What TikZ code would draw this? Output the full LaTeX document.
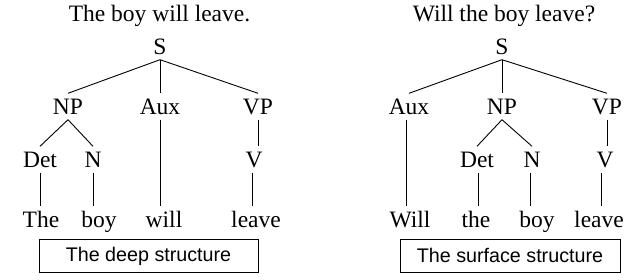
\documentclass[tikz,border=0pt]{standalone}
\usepackage{fontspec}
\setmainfont{Liberation Serif}
\newfontfamily\boxfont{Liberation Sans}
\begin{document}
\begin{tikzpicture}[x=1pt,y=-1pt,
  lbl/.style={anchor=base,inner xsep=1pt,inner ysep=4.5pt,text height=16pt,text depth=1pt,font=\fontsize{23.5}{26}\selectfont},
  ttl/.style={anchor=base,inner sep=0pt,font=\fontsize{23.5}{26}\selectfont},
  capbox/.style={draw,line width=1pt,minimum width=219pt,minimum height=33pt,inner sep=0pt,font=\boxfont\fontsize{19.7}{22}\selectfont},
  conn/.style={line width=0.9pt}]
\useasboundingbox (0,0) rectangle (637,279);
% ---- left tree
\node[ttl] (t1) at (159.5,21) {The boy will leave.};
\node[lbl] (S1) at (160,54) {S};
\node[lbl] (NP1) at (68,114) {NP};
\node[lbl] (Aux1) at (160,114) {Aux};
\node[lbl] (VP1) at (258,114) {VP};
\node[lbl] (Det1) at (40,167) {Det};
\node[lbl] (N1) at (93,167) {N};
\node[lbl] (V1) at (254,167) {V};
\node[lbl] (w1) at (41,227) {The};
\node[lbl] (w2) at (99,227) {boy};
\node[lbl] (w3) at (164,227) {will};
\node[lbl] (w4) at (256,227) {leave};
\draw[conn] (S1.south) -- (NP1.north);
\draw[conn] (S1.south) -- (S1.south|-Aux1.north);
\draw[conn] (S1.south) -- (VP1.north);
\draw[conn] (NP1.south) -- (Det1.north);
\draw[conn] (NP1.south) -- (N1.north);
\draw[conn] (Aux1.south-|S1.south) -- (S1.south|-w3.north);
\draw[conn] (VP1.south) -- (VP1.south|-V1.north);
\draw[conn] (Det1.south-|40,0) -- (w1.north-|40,0);
\draw[conn] (N1.south) -- (N1.south|-w2.north);
\draw[conn] (V1.south-|252,0) -- (w4.north-|252,0);
\node[capbox] (c1) at (148.5,256) {The deep structure};
% ---- right tree
\node[ttl] (t2) at (504,21) {Will the boy leave?};
\node[lbl] (S2) at (502,54) {S};
\node[lbl] (Aux2) at (409,114) {Aux};
\node[lbl] (NP2) at (502,114) {NP};
\node[lbl] (VP2) at (607,114) {VP};
\node[lbl] (Det2) at (477,167) {Det};
\node[lbl] (N2) at (532,167) {N};
\node[lbl] (V2) at (605,167) {V};
\node[lbl] (x1) at (410,227) {Will};
\node[lbl] (x2) at (476,227) {the};
\node[lbl] (x3) at (537,227) {boy};
\node[lbl] (x4) at (599,227) {leave};
\draw[conn] (S2.south) -- (Aux2.north);
\draw[conn] (S2.south) -- (NP2.north);
\draw[conn] (S2.south) -- (VP2.north);
\draw[conn] (NP2.south) -- (Det2.north);
\draw[conn] (NP2.south) -- (N2.north);
\draw[conn] (Aux2.south-|406,0) -- (x1.north-|406,0);
\draw[conn] (Det2.south-|478,0) -- (x2.north-|478,0);
\draw[conn] (N2.south-|530,0) -- (x3.north-|530,0);
\draw[conn] (VP2.south) -- (VP2.south|-V2.north);
\draw[conn] (V2.south-|601,0) -- (x4.north-|601,0);
\node[capbox,minimum width=220pt] (c2) at (510,255.5) {The surface structure};
\end{tikzpicture}
\end{document}
